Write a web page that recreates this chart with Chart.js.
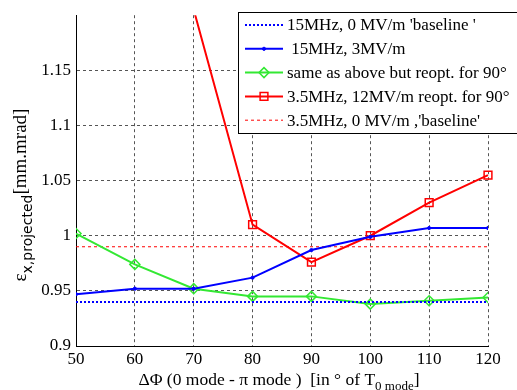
<!DOCTYPE html>
<html>
<head>
<meta charset="utf-8">
<script src="https://cdn.jsdelivr.net/npm/chart.js@4/dist/chart.umd.min.js"></script>
<style>
html, body { margin: 0; padding: 0; background: #fff; }
#wrap { width: 517px; height: 390px; }
</style>
</head>
<body>
<div id="wrap"><canvas id="chart"></canvas></div>
<script>
// phase difference between 0 mode and pi mode, degrees
const phase = [50, 60, 70, 80, 90, 100, 110, 120];
const base15 = [0.94, 0.94, 0.94, 0.94, 0.94, 0.94, 0.94, 0.94];
const mhz15 = [0.947, 0.952, 0.952, 0.962, 0.987, 0.999, 1.007, 1.007];
const reopt90 = [1.002, 0.974, 0.952, 0.945, 0.945, 0.938, 0.941, 0.944];
const mhz35 = [null, null, 1.205, 1.01, 0.976, 1.0, 1.03, 1.055];
const base35 = [0.99, 0.99, 0.99, 0.99, 0.99, 0.99, 0.99, 0.99];
const yTicks = [0.9, 0.95, 1, 1.05, 1.1, 1.15];
const labels = [
  "15MHz, 0 MV/m 'baseline '",
  " 15MHz, 3MV/m",
  "same as above but reopt. for 90°",
  "3.5MHz, 12MV/m reopt. for 90°",
  "3.5MHz, 0 MV/m ,'baseline'"
];

const serif = "'Liberation Serif', 'DejaVu Serif', serif";

function pts(vals) {
  return phase.map((x, i) => ({ x: x, y: vals[i] }));
}

// legend box drawn by hand, in the upper right corner
const legendBox = {
  id: 'legendBox',
  afterDraw(chart) {
    const ctx = chart.ctx;
    const x0 = 238, y0 = 12, w = 300, h = 121;
    ctx.save();
    ctx.fillStyle = '#fff';
    ctx.fillRect(x0, y0, w, h);
    ctx.strokeStyle = '#000';
    ctx.lineWidth = 1;
    ctx.strokeRect(x0 + 0.5, y0 + 0.5, w, h);
    chart.data.datasets.forEach((ds, i) => {
      const y = 25 + i * 23.8;
      ctx.save();
      ctx.strokeStyle = ds.borderColor;
      ctx.lineWidth = ds.borderWidth;
      ctx.setLineDash(ds.borderDash || []);
      ctx.beginPath();
      ctx.moveTo(245, y);
      ctx.lineTo(283, y);
      ctx.stroke();
      ctx.setLineDash([]);
      if (ds.pointRadius > 0) {
        ctx.fillStyle = ds.pointBackgroundColor;
        ctx.strokeStyle = ds.pointBorderColor || ds.borderColor;
        ctx.lineWidth = ds.pointBorderWidth || 1;
        Chart.helpers.drawPoint(ctx, {
          pointStyle: ds.pointStyle, radius: ds.pointRadius, borderWidth: ds.pointBorderWidth, rotation: 0
        }, 264, y);
      }
      ctx.restore();
      ctx.fillStyle = '#000';
      ctx.font = '17px ' + serif;
      ctx.textBaseline = 'middle';
      ctx.textAlign = 'left';
      ctx.fillText(ds.label, 287, y + 1);
    });
    ctx.restore();
  }
};

// axis titles with subscripts
const axisTitles = {
  id: 'axisTitles',
  afterDraw(chart) {
    const ctx = chart.ctx;
    ctx.save();
    ctx.fillStyle = '#000';
    ctx.textBaseline = 'alphabetic';
    ctx.textAlign = 'left';

    // x title
    const parts = [
      { t: 'ΔΦ (0 mode - π mode )  [in ° of T', f: '17.5px ' + serif, dy: 0 },
      { t: '0 mode', f: '13px ' + serif, dy: 5 },
      { t: ']', f: '17.5px ' + serif, dy: 0 }
    ];
    let total = 0;
    parts.forEach(p => { ctx.font = p.f; p.w = ctx.measureText(p.t).width; total += p.w; });
    let x = 279 - total / 2;
    parts.forEach(p => { ctx.font = p.f; ctx.fillText(p.t, x, 385 + p.dy); x += p.w; });

    // y title
    const yparts = [
      { t: 'ε', f: '19px ' + serif, dy: 0 },
      { t: 'x,projected', f: '14px "DejaVu Sans", sans-serif', dy: 6 },
      { t: '[mm.mrad]', f: '19px ' + serif, dy: 0 }
    ];
    total = 0;
    yparts.forEach(p => { ctx.font = p.f; p.w = ctx.measureText(p.t).width; total += p.w; });
    ctx.translate(26, 195);
    ctx.rotate(-Math.PI / 2);
    x = -total / 2;
    yparts.forEach(p => { ctx.font = p.f; ctx.fillText(p.t, x, p.dy); x += p.w; });
    ctx.restore();
  }
};

const ctx = document.getElementById('chart').getContext('2d');
const chart = new Chart(ctx, {
  type: 'line',
  data: {
    datasets: [
      {
        label: labels[0], data: pts(base15),
        borderColor: '#0000ff', borderWidth: 2, borderDash: [2, 2],
        pointRadius: 0, pointBackgroundColor: '#0000ff'
      },
      {
        label: labels[1], data: pts(mhz15),
        borderColor: '#0000ff', borderWidth: 2,
        pointStyle: 'circle', pointRadius: 1.6, pointBorderWidth: 1,
        pointBackgroundColor: '#0000ff', pointBorderColor: '#0000ff'
      },
      {
        label: labels[2], data: pts(reopt90),
        borderColor: '#33e833', borderWidth: 2,
        pointStyle: 'rectRot', pointRadius: 5, pointBorderWidth: 1.5,
        pointBackgroundColor: 'rgba(255,255,255,0)', pointBorderColor: '#33e833'
      },
      {
        label: labels[3], data: pts(mhz35),
        borderColor: '#ff0000', borderWidth: 2,
        pointStyle: 'rect', pointRadius: 5.5, pointBorderWidth: 1.5,
        pointBackgroundColor: 'rgba(255,255,255,0)', pointBorderColor: '#ff0000',
        clip: { left: false, top: 0, right: false, bottom: false }
      },
      {
        label: labels[4], data: pts(base35),
        borderColor: '#ff0000', borderWidth: 1, borderDash: [3, 3],
        pointRadius: 0, pointBackgroundColor: '#ff0000'
      }
    ]
  },
  options: {
    responsive: true,
    maintainAspectRatio: false,
    animation: false,
    spanGaps: false,
    layout: { padding: { top: 15, right: 29, left: 0, bottom: 0 } },
    plugins: { legend: { display: false }, tooltip: { enabled: false } },
    elements: { line: { tension: 0 } },
    scales: {
      x: {
        type: 'linear', min: 50, max: 120,
        afterBuildTicks: s => { s.ticks = phase.map(v => ({ value: v })); },
        afterFit: s => { s.height = 44; },
        grid: { color: '#555', lineWidth: 1, drawTicks: false },
        border: { display: true, color: '#000', width: 1, dash: [3, 3] },
        ticks: { color: '#000', font: { family: serif, size: 17 }, padding: 3, maxRotation: 0 }
      },
      y: {
        min: 0.9, max: 1.2,
        afterBuildTicks: s => { s.ticks = yTicks.map(v => ({ value: v })); },
        afterFit: s => { s.width = 76; },
        grid: { color: '#555', lineWidth: 1, drawTicks: false },
        border: { display: true, color: '#000', width: 1, dash: [3, 3] },
        ticks: {
          color: '#000', font: { family: serif, size: 17 }, padding: 5,
          callback: v => String(v)
        }
      }
    }
  },
  plugins: [legendBox, axisTitles]
});
</script>
</body>
</html>
